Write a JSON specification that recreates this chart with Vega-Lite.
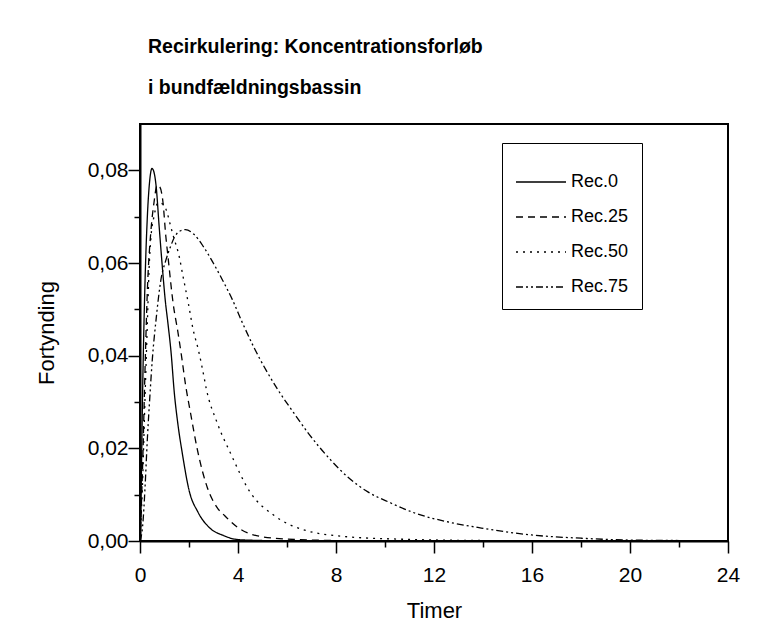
{
  "$schema": "https://vega.github.io/schema/vega-lite/v6.json",
  "width": 588,
  "height": 417,
  "autosize": {"type": "none"},
  "padding": {"left": 140, "top": 124, "right": 37, "bottom": 92},
  "background": "white",
  "config": {
    "font": "Liberation Sans",
    "view": {"stroke": "black", "strokeWidth": 2},
    "axis": {"grid": false, "domainColor": "black", "domainWidth": 2, "tickColor": "black", "tickWidth": 1.5, "labelColor": "black", "titleColor": "black", "labelFont": "Liberation Sans", "titleFont": "Liberation Sans", "titleFontWeight": "normal"}
  },
  "title": {
    "text": ["Recirkulering: Koncentrationsforløb", "i bundfældningsbassin"],
    "anchor": "start",
    "frame": "group",
    "dx": 8,
    "offset": 26,
    "fontSize": 19.5,
    "fontWeight": "bold",
    "lineHeight": 41,
    "color": "black",
    "font": "Liberation Sans"
  },
  "data": {"values": [
    {"s":"Rec.0","t":0,"v":0},{"s":"Rec.0","t":0.05,"v":0.012},{"s":"Rec.0","t":0.1,"v":0.03},{"s":"Rec.0","t":0.2,"v":0.055},{"s":"Rec.0","t":0.3,"v":0.07},{"s":"Rec.0","t":0.4,"v":0.078},{"s":"Rec.0","t":0.49,"v":0.0804},{"s":"Rec.0","t":0.56,"v":0.0798},{"s":"Rec.0","t":0.66,"v":0.0765},{"s":"Rec.0","t":0.78,"v":0.068},{"s":"Rec.0","t":0.92,"v":0.0586},{"s":"Rec.0","t":1.03,"v":0.052},{"s":"Rec.0","t":1.14,"v":0.047},{"s":"Rec.0","t":1.27,"v":0.0406},{"s":"Rec.0","t":1.4,"v":0.032},{"s":"Rec.0","t":1.54,"v":0.0255},{"s":"Rec.0","t":1.74,"v":0.0185},{"s":"Rec.0","t":2.0,"v":0.011},{"s":"Rec.0","t":2.37,"v":0.0062},{"s":"Rec.0","t":2.85,"v":0.0028},{"s":"Rec.0","t":3.4,"v":0.0012},{"s":"Rec.0","t":4.0,"v":0.0003},{"s":"Rec.0","t":5.0,"v":0.0001},{"s":"Rec.0","t":6,"v":0},{"s":"Rec.0","t":24,"v":0},
    {"s":"Rec.25","t":0,"v":0},{"s":"Rec.25","t":0.1,"v":0.015},{"s":"Rec.25","t":0.2,"v":0.036},{"s":"Rec.25","t":0.3,"v":0.054},{"s":"Rec.25","t":0.44,"v":0.0666},{"s":"Rec.25","t":0.57,"v":0.073},{"s":"Rec.25","t":0.7,"v":0.0768},{"s":"Rec.25","t":0.8,"v":0.0765},{"s":"Rec.25","t":0.94,"v":0.073},{"s":"Rec.25","t":1.05,"v":0.066},{"s":"Rec.25","t":1.15,"v":0.061},{"s":"Rec.25","t":1.35,"v":0.0514},{"s":"Rec.25","t":1.55,"v":0.045},{"s":"Rec.25","t":1.72,"v":0.039},{"s":"Rec.25","t":1.85,"v":0.034},{"s":"Rec.25","t":2.05,"v":0.028},{"s":"Rec.25","t":2.35,"v":0.0195},{"s":"Rec.25","t":2.75,"v":0.0115},{"s":"Rec.25","t":3.15,"v":0.0072},{"s":"Rec.25","t":3.45,"v":0.0055},{"s":"Rec.25","t":3.97,"v":0.003},{"s":"Rec.25","t":5.0,"v":0.0009},{"s":"Rec.25","t":6.4,"v":0.0003},{"s":"Rec.25","t":8,"v":0.0001},{"s":"Rec.25","t":10,"v":0},{"s":"Rec.25","t":24,"v":0},
    {"s":"Rec.50","t":0,"v":0},{"s":"Rec.50","t":0.1,"v":0.012},{"s":"Rec.50","t":0.2,"v":0.03},{"s":"Rec.50","t":0.3,"v":0.047},{"s":"Rec.50","t":0.37,"v":0.0586},{"s":"Rec.50","t":0.45,"v":0.0657},{"s":"Rec.50","t":0.57,"v":0.07},{"s":"Rec.50","t":0.74,"v":0.073},{"s":"Rec.50","t":0.9,"v":0.0728},{"s":"Rec.50","t":1.1,"v":0.071},{"s":"Rec.50","t":1.2,"v":0.069},{"s":"Rec.50","t":1.35,"v":0.066},{"s":"Rec.50","t":1.6,"v":0.0614},{"s":"Rec.50","t":1.76,"v":0.057},{"s":"Rec.50","t":1.97,"v":0.0514},{"s":"Rec.50","t":2.17,"v":0.0456},{"s":"Rec.50","t":2.38,"v":0.0413},{"s":"Rec.50","t":2.58,"v":0.0363},{"s":"Rec.50","t":2.7,"v":0.033},{"s":"Rec.50","t":3.15,"v":0.0255},{"s":"Rec.50","t":3.69,"v":0.019},{"s":"Rec.50","t":4.51,"v":0.0104},{"s":"Rec.50","t":5.45,"v":0.0056},{"s":"Rec.50","t":6.68,"v":0.0024},{"s":"Rec.50","t":8.5,"v":0.0009},{"s":"Rec.50","t":10.6,"v":0.0004},{"s":"Rec.50","t":14,"v":0.0001},{"s":"Rec.50","t":18,"v":0},{"s":"Rec.50","t":24,"v":0},
    {"s":"Rec.75","t":0,"v":0},{"s":"Rec.75","t":0.12,"v":0.004},{"s":"Rec.75","t":0.2,"v":0.011},{"s":"Rec.75","t":0.3,"v":0.022},{"s":"Rec.75","t":0.4,"v":0.031},{"s":"Rec.75","t":0.5,"v":0.039},{"s":"Rec.75","t":0.66,"v":0.048},{"s":"Rec.75","t":0.86,"v":0.0566},{"s":"Rec.75","t":1.05,"v":0.0605},{"s":"Rec.75","t":1.25,"v":0.0636},{"s":"Rec.75","t":1.4,"v":0.0655},{"s":"Rec.75","t":1.6,"v":0.0668},{"s":"Rec.75","t":1.85,"v":0.0672},{"s":"Rec.75","t":2.2,"v":0.0662},{"s":"Rec.75","t":2.58,"v":0.0636},{"s":"Rec.75","t":2.99,"v":0.06},{"s":"Rec.75","t":3.36,"v":0.0564},{"s":"Rec.75","t":3.77,"v":0.0521},{"s":"Rec.75","t":4.18,"v":0.0471},{"s":"Rec.75","t":4.63,"v":0.042},{"s":"Rec.75","t":5.62,"v":0.0327},{"s":"Rec.75","t":6.27,"v":0.0277},{"s":"Rec.75","t":6.85,"v":0.0234},{"s":"Rec.75","t":7.78,"v":0.0175},{"s":"Rec.75","t":8.48,"v":0.0138},{"s":"Rec.75","t":9.3,"v":0.0106},{"s":"Rec.75","t":10.24,"v":0.0082},{"s":"Rec.75","t":11.18,"v":0.0061},{"s":"Rec.75","t":12.58,"v":0.0041},{"s":"Rec.75","t":13.93,"v":0.0028},{"s":"Rec.75","t":15.98,"v":0.0013},{"s":"Rec.75","t":18,"v":0.0006},{"s":"Rec.75","t":20,"v":0.0002},{"s":"Rec.75","t":22,"v":0.0001},{"s":"Rec.75","t":24,"v":0}
  ]},
  "mark": {"type": "line", "interpolate": "monotone", "color": "black", "strokeWidth": 1.3},
  "encoding": {
    "x": {
      "field": "t", "type": "quantitative",
      "scale": {"domain": [0, 24], "nice": false, "zero": false},
      "axis": {
        "title": "Timer",
        "values": [0,2,4,6,8,10,12,14,16,18,20,22,24],
        "labelExpr": "datum.value % 4 === 0 ? datum.label : ''",
        "tickSize": {"condition": {"test": "datum.value % 4 === 0", "value": 12}, "value": 6},
        "labelPadding": 11,
        "labelFontSize": 21,
        "titleFontSize": 22,
        "titlePadding": 15,
        "labelFlush": false
      }
    },
    "y": {
      "field": "v", "type": "quantitative",
      "scale": {"domain": [0, 0.09], "nice": false},
      "axis": {
        "title": "Fortynding",
        "values": [0,0.01,0.02,0.03,0.04,0.05,0.06,0.07,0.08],
        "labelExpr": "round(datum.value*100) % 2 === 0 ? replace(format(datum.value, '.2f'), '.', ',') : ''",
        "tickSize": {"condition": {"test": "round(datum.value*100) % 2 === 0", "value": 12}, "value": 6},
        "labelPadding": 0,
        "labelFontSize": 21,
        "titleFontSize": 22,
        "titlePadding": 29,
        "labelFlush": false
      }
    },
    "strokeDash": {
      "field": "s", "type": "nominal",
      "scale": {"domain": ["Rec.0","Rec.25","Rec.50","Rec.75"], "range": [[1,0],[7,5],[2,5],[7,3,2,3,2,3]]},
      "legend": {
        "title": null,
        "orient": "none",
        "legendX": 362,
        "legendY": 19,
        "strokeColor": "black",
        "fillColor": "white",
        "padding": 13,
        "symbolType": "stroke",
        "symbolSize": 2500,
        "symbolStrokeColor": "black",
        "symbolStrokeWidth": 1.3,
        "labelFontSize": 18,
        "labelOffset": 4,
        "labelColor": "black",
        "labelFont": "Liberation Sans",
        "rowPadding": -4
      }
    }
  }
}
